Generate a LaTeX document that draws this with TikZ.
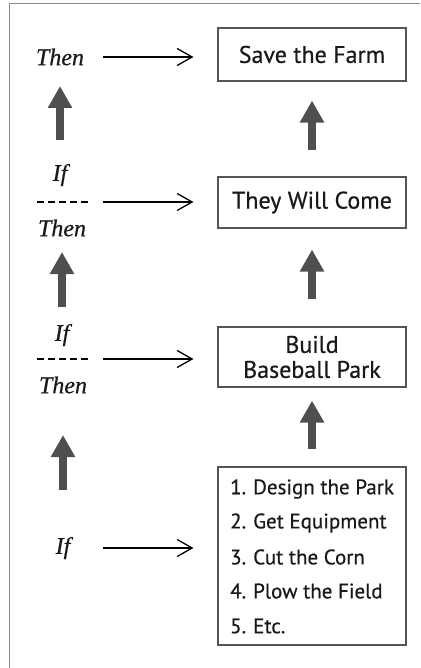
\documentclass[tikz,border=0pt]{standalone}
\usepackage{fontspec}
\setmainfont{PT Sans}[FakeBold=0.5]
\newfontfamily\tnr{Liberation Serif}[FakeBold=0.5]
\usetikzlibrary{arrows.meta}
\definecolor{framegray}{HTML}{8A8A8A}
\definecolor{boxgray}{HTML}{555555}
\definecolor{arrowgray}{HTML}{4F4F4F}
\begin{document}
\begin{tikzpicture}[x=1pt,y=-1pt,
  box/.style={draw=boxgray, line width=1.1pt, minimum width=188pt, inner sep=0pt,
    font=\fontsize{24}{25}\selectfont, align=center, text=black!90},
  item/.style={anchor=west, inner sep=0pt, font=\fontsize{21}{24}\selectfont, text=black!90},
  lbl/.style={inner sep=0pt, font=\tnr\itshape\fontsize{24}{28}\selectfont, text=black!90},
  thinarrow/.style={line width=1.3pt, -{Straight Barb[length=15pt,width=17pt,line width=1.3pt]}},
  fatarrow/.style={draw=arrowgray, line width=8pt, -{Triangle[length=22pt,width=23pt]}},
  dashline/.style={line width=1.3pt, dash pattern=on 7pt off 4pt}]
\useasboundingbox (0,0) rectangle (420,668);
% frame (cropped at right and bottom)
\draw[framegray, line width=1.5pt] (9.5,668) -- (9.5,3.5) -- (420,3.5);
% boxes
\node[box, minimum height=53pt] (stf) at (312,54.5) {Save the Farm};
\node[box, minimum height=51pt] (twc) at (312,202.5) {They Will Come};
\node[box, minimum height=60pt] (bbp) at (312,357) {Build\\Baseball Park};
\node[box, minimum height=178pt] (list) at (312,556) {};
\node[item] (i1) at (230,489) {\makebox[23pt][l]{1.}Design the Park};
\node[item] (i2) at (230,523) {\makebox[23pt][l]{2.}Get Equipment};
\node[item] (i3) at (230,557) {\makebox[23pt][l]{3.}Cut the Corn};
\node[item] (i4) at (230,591) {\makebox[23pt][l]{4.}Plow the Field};
\node[item] (i5) at (230,626) {\makebox[23pt][l]{5.}Etc.};
% labels
\node[lbl] (then1) at (60,57) {Then};
\node[lbl] (if2) at (60,175) {If};
\coordinate (d2) at (62,202);
\node[lbl] (then2) at (62,228) {Then};
\node[lbl] (if3) at (62,335) {If};
\coordinate (d3) at (62,359);
\node[lbl] (then3) at (63,385) {Then};
\node[lbl] (if4) at (63,548) {If};
% dashed separators
\draw[dashline] (d2) ++(-25,0) -- ++(51,0);
\draw[dashline] (d3) ++(-25,0) -- ++(51,0);
% horizontal arrows
\draw[thinarrow, shorten <=43pt, shorten >=24pt] (then1.center) -- (then1.center -| stf.west);
\draw[thinarrow, shorten <=41pt, shorten >=24pt] (d2) -- (d2 -| twc.west);
\draw[thinarrow, shorten <=41pt, shorten >=24pt] (d3) -- (d3 -| bbp.west);
\draw[thinarrow, shorten <=40pt, shorten >=24pt] (if4.center) -- (if4.center -| list.west);
% right column fat arrows
\draw[fatarrow, shorten <=26pt, shorten >=19pt] (twc.north) -- (stf.south);
\draw[fatarrow, shorten <=27pt, shorten >=21pt] (bbp.north) -- (twc.south);
\draw[fatarrow, shorten <=17pt, shorten >=13pt] (list.north) -- (bbp.south);
% left column fat arrows
\draw[fatarrow, shorten <=35pt, shorten >=29pt] (if2.center) -- (then1.center);
\draw[fatarrow, shorten <=28pt, shorten >=24pt] (if3.center) -- (then2.center);
\draw[fatarrow, shorten <=58pt, shorten >=50pt] (if4.center) -- (then3.center);
\end{tikzpicture}
\end{document}
